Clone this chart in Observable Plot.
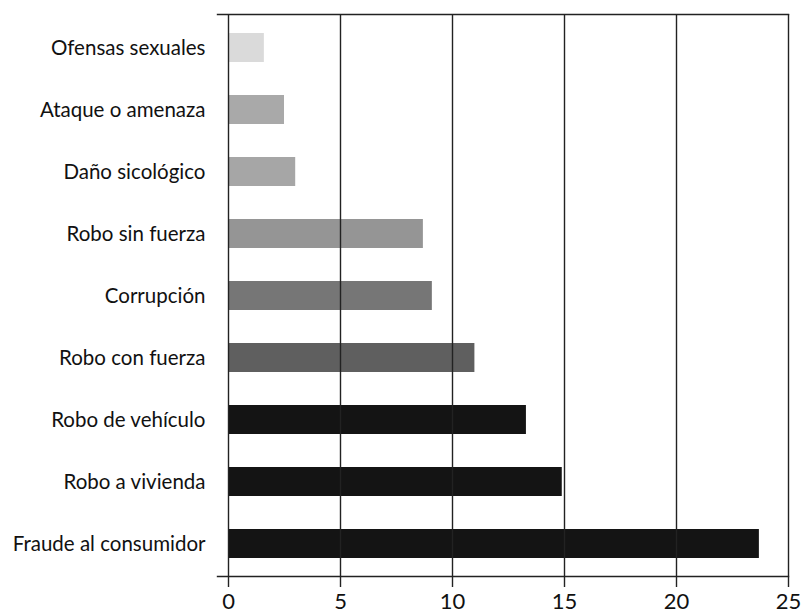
<!DOCTYPE html>
<html>
<head>
<meta charset="utf-8">
<script src="https://cdn.jsdelivr.net/npm/d3@7"></script>
<script src="https://cdn.jsdelivr.net/npm/@observablehq/plot@0.6"></script>
<style>
  html, body { margin: 0; padding: 0; background: #ffffff; }
  #chart svg { overflow: visible; }
</style>
</head>
<body>
<div id="chart"></div>
<script>
const categories = [
  "Ofensas sexuales",
  "Ataque o amenaza",
  "Daño sicológico",
  "Robo sin fuerza",
  "Corrupción",
  "Robo con fuerza",
  "Robo de vehículo",
  "Robo a vivienda",
  "Fraude al consumidor"
];
const values = [1.6, 2.5, 3.0, 8.7, 9.1, 11.0, 13.3, 14.9, 23.7];
const shades = ["#dadada", "#a9a9a9", "#a6a6a6", "#959595", "#767676", "#5f5f5f", "#141414", "#141414", "#141414"];
const xTicks = [0, 5, 10, 15, 20, 25];

const data = categories.map((c, i) => ({category: c, value: values[i], shade: shades[i]}));

const chart = Plot.plot({
  width: 803,
  height: 616,
  marginLeft: 228,
  marginRight: 15,
  marginTop: 14,
  marginBottom: 40,
  style: {background: "#ffffff", fontFamily: "Lato, 'Open Sans', sans-serif", color: "#111"},
  x: {domain: [0, 25], ticks: xTicks},
  y: {domain: categories, paddingInner: 0.54, paddingOuter: 0.27},
  marks: [
    Plot.barX(data, {x: "value", y: "category", fill: "shade"}),
    Plot.ruleX(xTicks, {stroke: "#222", strokeWidth: 1.4}),
    Plot.frame({anchor: "top", stroke: "#222", strokeWidth: 1.4, insetLeft: -11}),
    Plot.frame({anchor: "bottom", stroke: "#222", strokeWidth: 1.4, insetLeft: -11}),
    Plot.axisX({ticks: xTicks, tickSize: 11, tickPadding: 6, fontSize: 22, stroke: "#222", strokeWidth: 1.4, fill: "#111", label: null}),
    Plot.axisY({tickSize: 0, tickPadding: 23, fontSize: 20.5, fill: "#111", label: null})
  ]
});
document.getElementById("chart").appendChild(chart);
</script>
</body>
</html>
